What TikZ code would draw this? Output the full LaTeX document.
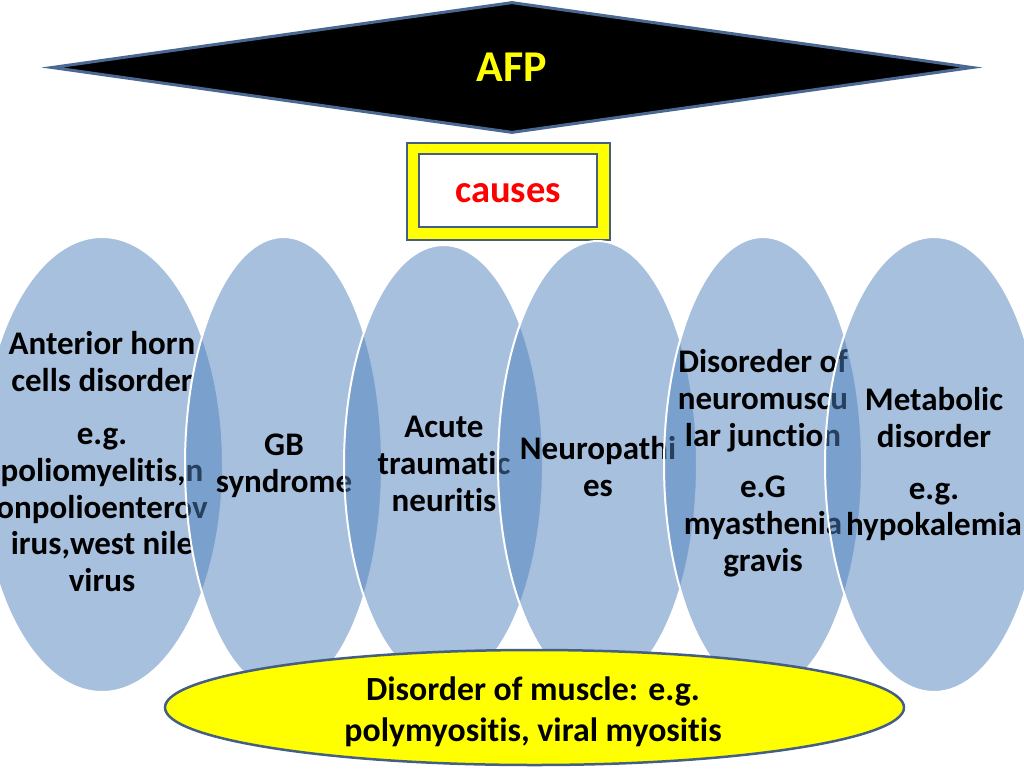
\documentclass[tikz,border=0pt]{standalone}
\usepackage{fontspec}
\setmainfont{Carlito}[Ligatures={NoCommon}]
\usetikzlibrary{shapes.geometric}
\definecolor{vennblue}{RGB}{79,129,189}
\definecolor{edgeblue}{RGB}{68,94,132}
\definecolor{diaedge}{RGB}{74,104,145}
\definecolor{afpyellow}{RGB}{255,255,0}
\begin{document}
\begin{tikzpicture}[x=1pt,y=-1pt,
  venn/.style={ellipse, fill=vennblue, fill opacity=0.5, draw=white, draw opacity=1, line width=2pt, inner sep=0pt},
  vtext/.style={anchor=north, align=center, inner sep=0pt, text=black, text opacity=1, font=\fontsize{33}{36.7}\selectfont\bfseries},
  every node/.append style={text opacity=1}]
\useasboundingbox (0,0) rectangle (1024,768);
% top diamond
\node[diamond, draw=diaedge, line width=3pt, fill=black, minimum width=921pt, minimum height=131pt, inner sep=0pt,
      text=afpyellow, font=\fontsize{44}{52}\selectfont\bfseries] (afp) at (512,67.5) {AFP};
% causes box
\node[rectangle, draw=edgeblue, line width=2pt, fill=afpyellow, minimum width=203pt, minimum height=97pt, inner sep=0pt] (outerbox) at (508,191) {};
\node[rectangle, draw=edgeblue, line width=2.5pt, fill=white, minimum width=178pt, minimum height=73pt, inner sep=0pt] (innerbox) at (508,190.5) {};
\node[anchor=base, inner sep=0pt, text=red, font=\fontsize{38.5}{44}\selectfont\bfseries] (causes) at (508,202) {causes};
% venn ellipses with text
\node[venn, minimum width=242pt, minimum height=455pt] (e1) at (102,464.5) {};
\node[vtext] (t1) at (102,328.5) {\strut Anterior horn\\cells disorder\\[17pt]e.g.\\poliomyelitis,n\\onpolioenterov\\irus,west nile\\virus};
\node[venn, minimum width=197pt, minimum height=455pt] (e2) at (283.5,464.5) {};
\node[vtext] (t2) at (284,430) {\strut GB\\syndrome};
\node[venn, minimum width=199pt, minimum height=439pt] (e3) at (443.5,464.5) {};
\node[vtext] (t3) at (444,412) {\strut Acute\\traumatic\\neuritis};
\node[venn, minimum width=199pt, minimum height=447pt] (e4) at (597.5,464.5) {};
\node[vtext] (t4) at (598,434) {\strut Neuropathi\\es};
\node[venn, minimum width=198pt, minimum height=455pt] (e5) at (763,464.5) {};
\node[vtext] (t5) at (763,347) {\strut Disoreder of\\neuromuscu\\lar junction\\[15pt]e.G\\myasthenia\\gravis};
\node[venn, minimum width=218pt, minimum height=455pt] (e6) at (934,464.5) {};
\node[vtext] (t6) at (934,385) {\strut Metabolic\\disorder\\[15pt]e.g.\\hypokalemia};
% bottom ellipse
\node[ellipse, draw=edgeblue, line width=2.5pt, fill=afpyellow, minimum width=739pt, minimum height=115pt, inner sep=0pt] (muscle) at (534.5,707.5) {};
\node[anchor=north, align=center, inner sep=0pt, font=\fontsize{33.8}{41}\selectfont\bfseries] (muscletext) at (533,671.3) {\strut Disorder of muscle: e.g.\\polymyositis, viral myositis};
\end{tikzpicture}
\end{document}
